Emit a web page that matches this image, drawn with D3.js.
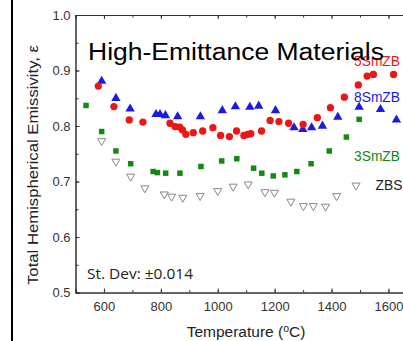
<!DOCTYPE html>
<html>
<head>
<meta charset="utf-8">
<script src="https://cdn.jsdelivr.net/npm/d3@7"></script>
<style>
  html, body { margin: 0; padding: 0; background: #fff; overflow: hidden; }
  svg { display: block; }
</style>
</head>
<body>
<svg id="chart" width="403" height="341"></svg>
<script>
// ---- data ----
const sm5Temp = [580, 635, 689, 737, 832, 850, 866, 876, 888, 914, 947, 983, 1010, 1041, 1066, 1092, 1105, 1116, 1154, 1184, 1215, 1249, 1300, 1350, 1396, 1445, 1494, 1525, 1547, 1618];
const sm5Eps  = [0.872, 0.835, 0.811, 0.807, 0.805, 0.799, 0.798, 0.793, 0.785, 0.788, 0.791, 0.797, 0.783, 0.781, 0.791, 0.783, 0.785, 0.786, 0.791, 0.810, 0.808, 0.805, 0.803, 0.815, 0.833, 0.852, 0.874, 0.890, 0.893, 0.893];

const sm8Temp = [592, 642, 692, 783, 797, 816, 859, 939, 1016, 1062, 1113, 1144, 1203, 1268, 1299, 1330, 1368, 1422, 1497, 1572, 1628];
const sm8Eps  = [0.881, 0.850, 0.831, 0.821, 0.821, 0.819, 0.817, 0.817, 0.828, 0.835, 0.834, 0.836, 0.828, 0.797, 0.794, 0.797, 0.800, 0.816, 0.834, 0.830, 0.811];

const sm3Temp = [537, 592, 642, 694, 773, 788, 817, 867, 941, 1014, 1067, 1126, 1155, 1195, 1236, 1278, 1328, 1392, 1452, 1497];
const sm3Eps  = [0.837, 0.790, 0.755, 0.732, 0.718, 0.716, 0.715, 0.715, 0.727, 0.737, 0.741, 0.724, 0.715, 0.710, 0.712, 0.718, 0.732, 0.755, 0.780, 0.812];

const zbsTemp = [592, 642, 694, 744, 812, 838, 877, 938, 1000, 1054, 1107, 1166, 1199, 1257, 1301, 1336, 1379, 1418, 1486];
const zbsEps  = [0.773, 0.736, 0.709, 0.688, 0.677, 0.673, 0.671, 0.674, 0.683, 0.691, 0.695, 0.681, 0.680, 0.664, 0.656, 0.656, 0.655, 0.674, 0.693];

const xTickLabels = [600, 800, 1000, 1200, 1400, 1600];
const yTickLabels = [0.5, 0.6, 0.7, 0.8, 0.9, 1.0];
const seriesNames = ["5SmZB", "8SmZB", "3SmZB", "ZBS"];
const titleText = "High-Emittance Materials";
const stDevText = "St. Dev:  \u00B10.014";

// ---- layout ----
const svg = d3.select("#chart");
const x = d3.scaleLinear().domain([500, 1700]).range([75.5, 416.9]);
const y = d3.scaleLinear().domain([0.5, 1.0]).range([292.5, 15]);

const axisColor = "#333";
const fontMain = "Arial, 'Liberation Sans', sans-serif";

// page border line on the left
svg.append("line").attr("x1", 12).attr("x2", 12).attr("y1", 0).attr("y2", 341)
  .attr("stroke", "#000").attr("stroke-width", 2);

function styleAxis(g) {
  g.selectAll("path").attr("stroke", axisColor).attr("stroke-width", 1);
  g.selectAll("line").attr("stroke", axisColor).attr("stroke-width", 1);
  g.selectAll("text").attr("fill", "#333").style("font-family", fontMain).style("font-size", "13px");
}

const minorX = d3.range(500, 1701, 100);
const minorY = d3.range(0.5, 1.0001, 0.05);

// bottom axis: minor ticks, then major with labels
svg.append("g").attr("transform", `translate(0,${y(0.5)})`)
  .call(d3.axisBottom(x).tickValues(minorX).tickSize(-2.5).tickFormat(""))
  .call(styleAxis);
svg.append("g").attr("transform", `translate(0,${y(0.5)})`)
  .call(d3.axisBottom(x).tickValues(xTickLabels).tickSize(-4).tickPadding(9).tickFormat(d3.format("d")))
  .call(styleAxis);

// top axis
svg.append("g").attr("transform", `translate(0,${y(1.0)})`)
  .call(d3.axisTop(x).tickValues(minorX).tickSize(-2.5).tickFormat(""))
  .call(styleAxis);
svg.append("g").attr("transform", `translate(0,${y(1.0)})`)
  .call(d3.axisTop(x).tickValues(xTickLabels).tickSize(-4).tickFormat(""))
  .call(styleAxis);

// left axis
svg.append("g").attr("transform", `translate(${x(500)},0)`)
  .call(d3.axisLeft(y).tickValues(minorY).tickSize(-3).tickFormat(""))
  .call(styleAxis);
svg.append("g").attr("transform", `translate(${x(500)},0)`)
  .call(d3.axisLeft(y).tickValues(yTickLabels).tickSize(-4).tickPadding(5).tickFormat(d3.format(".1f")))
  .call(styleAxis);

// right axis (mostly outside the view)
svg.append("g").attr("transform", `translate(${x(1700)},0)`)
  .call(d3.axisRight(y).tickValues(minorY).tickSize(-3).tickFormat(""))
  .call(styleAxis);

// ---- markers ----
const red = "#f01414", blue = "#1a1ae6", green = "#108a10", gray = "#888";

function pts(temps, eps) { return temps.map((t, i) => ({ t, e: eps[i] })); }

// ZBS: open down triangles
svg.append("g").selectAll("path").data(pts(zbsTemp, zbsEps)).join("path")
  .attr("transform", d => `translate(${x(d.t)},${y(d.e)}) rotate(180)`)
  .attr("d", d3.symbol(d3.symbolTriangle, 28))
  .attr("fill", "#fff").attr("stroke", gray).attr("stroke-width", 1);

// 3SmZB: green squares
svg.append("g").selectAll("path").data(pts(sm3Temp, sm3Eps)).join("path")
  .attr("transform", d => `translate(${x(d.t)},${y(d.e)})`)
  .attr("d", d3.symbol(d3.symbolSquare, 30))
  .attr("fill", green);

// 8SmZB: blue triangles
svg.append("g").selectAll("path").data(pts(sm8Temp, sm8Eps)).join("path")
  .attr("transform", d => `translate(${x(d.t)},${y(d.e)})`)
  .attr("d", d3.symbol(d3.symbolTriangle, 38))
  .attr("fill", blue);

// 5SmZB: red circles
svg.append("g").selectAll("path").data(pts(sm5Temp, sm5Eps)).join("path")
  .attr("transform", d => `translate(${x(d.t)},${y(d.e)})`)
  .attr("d", d3.symbol(d3.symbolCircle, 42))
  .attr("fill", red);

// ---- series labels ----
const labels = [
  { name: seriesNames[0], color: red,   x: 354, y: 66 },
  { name: seriesNames[1], color: blue,  x: 354, y: 102 },
  { name: seriesNames[2], color: green, x: 354, y: 160.5 },
  { name: seriesNames[3], color: "#222", x: 375.5, y: 190 }
];
svg.append("g").selectAll("text").data(labels).join("text")
  .attr("x", d => d.x).attr("y", d => d.y)
  .attr("fill", d => d.color)
  .style("font-family", fontMain).style("font-size", "13.8px")
  .text(d => d.name);

// title
svg.append("text").attr("x", 88).attr("y", 59.5)
  .attr("fill", "#000")
  .attr("textLength", 296).attr("lengthAdjust", "spacingAndGlyphs")
  .style("font-family", fontMain).style("font-size", "23px")
  .text(titleText);

// st dev note
svg.append("text").attr("x", 87).attr("y", 278.5)
  .attr("fill", "#222")
  .attr("textLength", 106).attr("lengthAdjust", "spacingAndGlyphs")
  .style("font-family", "'Open Sans', sans-serif").style("font-size", "14px")
  .text(stDevText);

// axis titles
svg.append("text")
  .attr("transform", `translate(38,165) rotate(-90)`)
  .attr("text-anchor", "middle")
  .attr("fill", "#222")
  .attr("textLength", 240).attr("lengthAdjust", "spacingAndGlyphs")
  .style("font-family", fontMain).style("font-size", "14.5px")
  .text("Total Hemispherical Emissivity, \u03B5");

const xt = svg.append("text")
  .attr("x", 246).attr("y", 337)
  .attr("text-anchor", "middle")
  .attr("fill", "#222")
  .style("font-family", fontMain).style("font-size", "15.5px");
xt.append("tspan").text("Temperature (");
xt.append("tspan").attr("dy", -5.5).style("font-size", "10.5px").text("o");
xt.append("tspan").attr("dy", 5.5).text("C)");
</script>
</body>
</html>
